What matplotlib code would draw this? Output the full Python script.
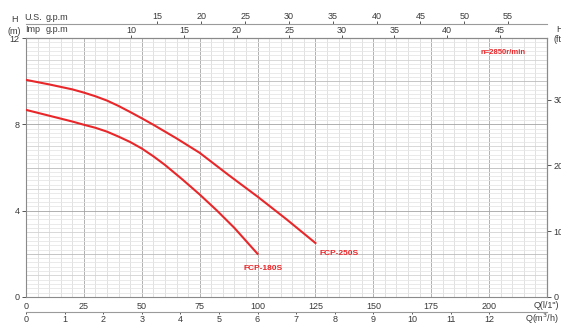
import numpy as np
import matplotlib
matplotlib.use('Agg')
import matplotlib.pyplot as plt

plt.rcParams['font.family'] = ['Liberation Sans', 'DejaVu Sans']

# pump curves, Q in l/min, H in m
q_180 = [0, 10, 20, 25, 30, 35, 40, 45, 50, 55, 60, 67.5, 75, 82.5, 90, 100]
h_180 = [8.67, 8.4, 8.13, 7.98, 7.84, 7.66, 7.43, 7.18, 6.88, 6.52, 6.12, 5.45, 4.75, 4.0, 3.2, 2.0]
q_250 = [0, 10, 20, 25, 30, 35, 40, 45, 50, 55, 65, 75, 87.5, 100, 112.5, 125]
h_250 = [10.06, 9.85, 9.62, 9.47, 9.3, 9.1, 8.85, 8.57, 8.28, 7.98, 7.35, 6.68, 5.65, 4.65, 3.6, 2.5]

q_ticks = [0, 25, 50, 75, 100, 125, 150, 175, 200]
h_ticks = [0, 4, 8, 12]
ft_ticks = [0, 10, 20, 30]
m3h_ticks = list(range(0, 13))
us_ticks = [15, 20, 25, 30, 35, 40, 45, 50, 55]
imp_ticks = [10, 15, 20, 25, 30, 35, 40, 45]

RED = '#e8272a'
TXT = '#3a3a3a'
W, H = 561, 323
fs = 6.5

fig = plt.figure(figsize=(W / 100, H / 100), dpi=100)
ax = fig.add_axes([26 / W, (H - 297) / H, (547 - 26) / W, (297 - 38) / H])
ax.set_xlim(0, 225)
ax.set_ylim(0, 12)

# grid
for x in np.arange(5, 225, 5):
    ax.axvline(x, color='#a4a4a4' if x % 25 == 0 else '#dcdcdc', lw=0.6, zorder=1)
for y in np.arange(0.2, 12, 0.2):
    yr = round(y, 1)
    if yr % 4 == 0:
        c = '#a4a4a4'
    elif yr % 2 == 0:
        c = '#bcbcbc'
    elif yr % 1 == 0:
        c = '#d2d2d2'
    else:
        c = '#e6e6e6'
    ax.axhline(yr, color=c, lw=0.6, zorder=1)

ax.plot(q_180, h_180, color=RED, lw=1.5, zorder=3)
ax.plot(q_250, h_250, color=RED, lw=1.5, zorder=3)
ax.text(q_180[-1] + 2.5, h_180[-1] - 0.66, 'FCP-180S', color=RED, fontsize=6,
        fontweight='bold', ha='center', va='center', zorder=4)
ax.text(q_250[-1] + 10.4, h_250[-1] - 0.5, 'FCP-250S', color=RED, fontsize=6,
        fontweight='bold', ha='center', va='center', zorder=4)
ax.text(206, 11.35, 'n=2850r/min', color=RED, fontsize=5.5,
        fontweight='bold', ha='center', va='center', zorder=4)

for s in ['left', 'bottom', 'right', 'top']:
    ax.spines[s].set_color('#8a8a8a')
    ax.spines[s].set_linewidth(0.8)

ax.set_xticks(q_ticks)
ax.set_yticks(h_ticks)
ax.tick_params(axis='x', length=0, pad=3.5, labelsize=fs, colors=TXT)
ax.tick_params(axis='y', length=3, width=0.6, pad=1.5, labelsize=fs, colors=TXT)

# right axis in feet
ft = ax.secondary_yaxis('right', functions=(lambda m: m * 3.281, lambda f: f / 3.281))
ft.set_yticks(ft_ticks)
ft.tick_params(length=3, width=0.6, pad=1.5, labelsize=fs, colors=TXT)
ft.spines['right'].set_color('#8a8a8a')

# top: Imp gpm on the frame, US gpm above
imp = ax.secondary_xaxis('top', functions=(lambda q: q / 4.546, lambda g: g * 4.546))
imp.set_xticks(imp_ticks)
imp.tick_params(length=2, width=0.6, pad=0.5, labelsize=fs, colors=TXT)
imp.spines['top'].set_color('#8a8a8a')

us = ax.secondary_xaxis(1.054, functions=(lambda q: q / 3.785, lambda g: g * 3.785))
us.set_xticks(us_ticks)
us.tick_params(length=2, width=0.6, pad=0.5, labelsize=fs, colors=TXT)
us.spines['top'].set_color('#9a9a9a')
us.spines['top'].set_linewidth(0.8)

# bottom: m3/h
m3 = ax.secondary_xaxis(-0.058, functions=(lambda q: q * 0.06, lambda v: v / 0.06))
m3.set_xticks(m3h_ticks)
m3.tick_params(length=1.5, width=0.6, pad=0.3, labelsize=fs, colors=TXT)
m3.spines['bottom'].set_color('#9a9a9a')
m3.spines['bottom'].set_linewidth(0.8)

def ftxt(x, y, s, **kw):
    fig.text(x / W, 1 - y / H, s, fontsize=fs, color=TXT, va='center', **kw)

ftxt(14, 20, 'H', ha='center')
ftxt(14, 31, '(m)', ha='center')
ftxt(24, 17, 'U.S.', ha='left')
ftxt(46, 17, 'g.p.m', ha='left')
ftxt(25, 30, 'Imp', ha='left')
ftxt(46, 30, 'g.p.m', ha='left')
ftxt(556, 30, 'H', ha='left')
ftxt(553, 40, '(ft)', ha='left')
ftxt(559, 306, 'Q(l/1")', ha='right')
ftxt(559, 318.5, 'Q(m$^3$/h)', ha='right')

fig.savefig('out.png', dpi=100)
